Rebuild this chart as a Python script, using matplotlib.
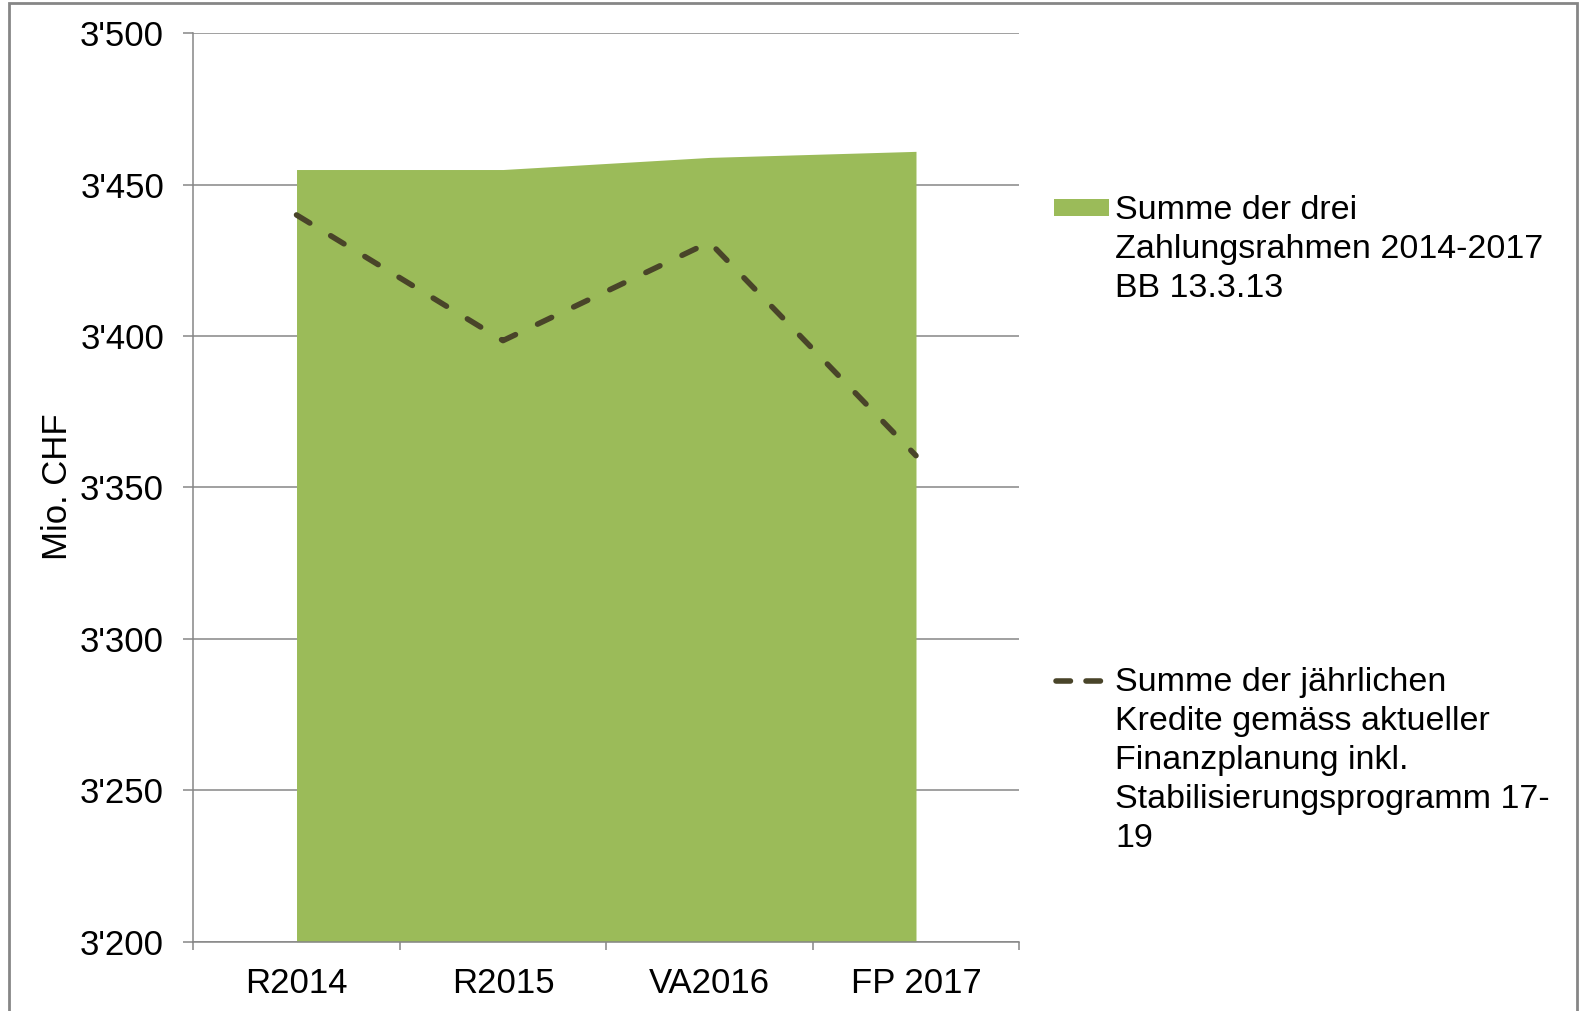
import matplotlib
matplotlib.use("Agg")
from matplotlib import pyplot as plt
from matplotlib.lines import Line2D
from matplotlib.patches import Rectangle
from matplotlib.ticker import FixedLocator, FuncFormatter

plt.rcParams["font.family"] = ["Liberation Sans", "DejaVu Sans"]

categories = ["R2014", "R2015", "VA2016", "FP 2017"]
zahlungsrahmen = [3455, 3455, 3459, 3461]
kredite = [3440, 3398.5, 3431, 3360.5]
y_ticks = [3200, 3250, 3300, 3350, 3400, 3450, 3500]

label_area = "Summe der drei\nZahlungsrahmen 2014-2017\nBB 13.3.13"
label_line = ("Summe der jährlichen\nKredite gemäss aktueller\nFinanzplanung inkl.\n"
              "Stabilisierungsprogramm 17-\n19")

green = "#9bbb59"
dark = "#494429"
grey = "#868686"
fs = 25
fs_leg = 24.5

fig = plt.figure(figsize=(15.79, 10.11), dpi=100)
ax = fig.add_axes([0.1224, 0.0686, 0.6455 - 0.1224, 0.9671 - 0.0686])

x = range(len(categories))
ax.fill_between(x, y_ticks[0], zahlungsrahmen, color=green, lw=0, zorder=2)
ax.plot(x, kredite, color=dark, lw=4, dashes=(2.8, 4.4),
        dash_capstyle="round", zorder=3)

ax.set_xlim(-0.5, len(categories) - 0.5)
ax.set_ylim(y_ticks[0], y_ticks[-1])
ax.set_yticks(y_ticks)
ax.yaxis.set_major_formatter(FuncFormatter(lambda v, p: f"{int(v):,}".replace(",", "'")))
ax.grid(axis="y", color=grey, lw=1.1, zorder=0)
ax.set_axisbelow(True)

ax.xaxis.set_major_locator(FixedLocator([i - 0.5 for i in range(len(categories) + 1)]))
ax.xaxis.set_major_formatter(FuncFormatter(lambda v, p: ""))
ax.xaxis.set_minor_locator(FixedLocator(list(x)))
ax.set_xticklabels(categories, minor=True)
ax.tick_params(axis="x", which="major", length=6, color=grey, width=1.1)
ax.tick_params(axis="x", which="minor", length=0, pad=18, labelsize=fs)
ax.tick_params(axis="y", length=7, color=grey, width=1.1, pad=14, labelsize=fs)

for s in ["top", "right"]:
    ax.spines[s].set_visible(False)
for s in ["left", "bottom"]:
    ax.spines[s].set_color(grey)
    ax.spines[s].set_linewidth(1.1)

fig.text(0.0364, 0.519, "Mio. CHF", rotation=90, ha="center", va="center", fontsize=fs)

# legend, drawn by hand so the keys sit on the first text line
fig.patches.append(Rectangle((0.6676, 0.7866), 0.0346, 0.0168, transform=fig.transFigure,
                             color=green, lw=0))
fig.text(0.7061, 0.8073, label_area, fontsize=fs_leg, va="top", linespacing=1.33)
fig.lines.append(Line2D([0.6690, 0.7008], [0.3267, 0.3267], transform=fig.transFigure,
                        color=dark, lw=4, dashes=(2.6, 2.8), dash_capstyle="round"))
fig.text(0.7061, 0.3403, label_line, fontsize=fs_leg, va="top", linespacing=1.33)

# outer frame
fig.patches.append(Rectangle((0.0057, -0.01), 0.993, 1.007, transform=fig.transFigure,
                             fill=False, edgecolor=grey, lw=2))

fig.savefig("out.png", dpi=100)
